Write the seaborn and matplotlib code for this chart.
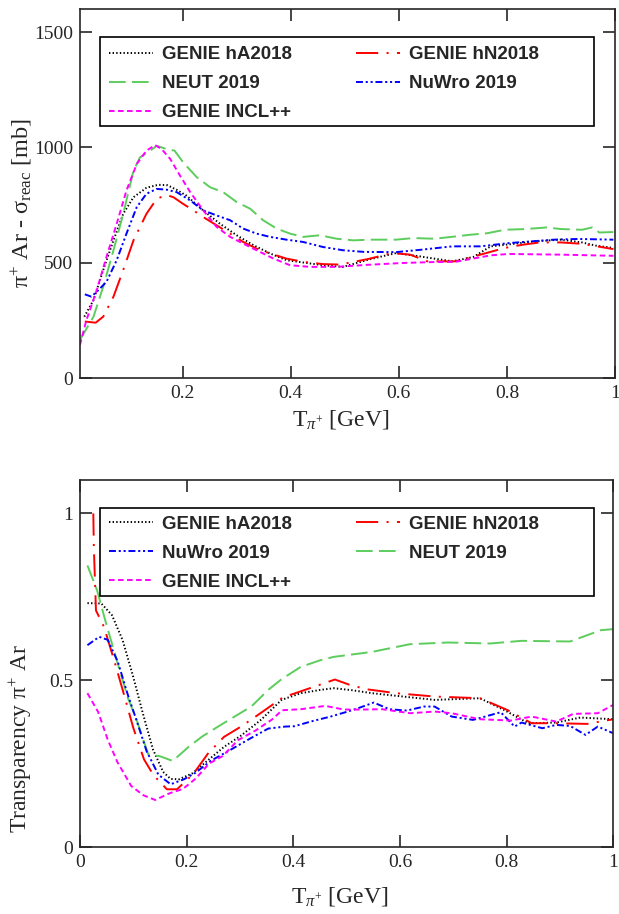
import matplotlib
matplotlib.use('Agg')
import matplotlib.pyplot as plt
from matplotlib.patches import Rectangle
from matplotlib.ticker import FuncFormatter
from matplotlib.font_manager import FontProperties
import pandas as pd
import seaborn as sns

# ---------------- top panel: pi+ Ar reaction cross section [mb] ----------------
top_ha_x = [0.018, 0.035, 0.053, 0.072, 0.090, 0.109, 0.133, 0.155, 0.172, 0.189, 0.207, 0.238, 0.269, 0.300,
            0.331, 0.362, 0.392, 0.423, 0.460, 0.497, 0.543, 0.595, 0.640, 0.699, 0.738, 0.770, 0.809, 0.848,
            0.900, 0.939, 0.965, 0.997]
top_ha_y = [266, 338, 468, 597, 712, 784, 825, 838, 836, 816, 791, 727, 669, 619,
            576, 540, 511, 501, 489, 482, 513, 542, 527, 506, 525, 571, 581, 592,
            600, 588, 574, 564]

top_hn_x = [0.019, 0.039, 0.053, 0.072, 0.090, 0.109, 0.133, 0.152, 0.170, 0.183, 0.201, 0.220, 0.238, 0.263,
            0.288, 0.312, 0.337, 0.362, 0.392, 0.423, 0.460, 0.491, 0.543, 0.588, 0.621, 0.653, 0.705, 0.751,
            0.796, 0.829, 0.861, 0.900, 0.939, 0.997]
top_hn_y = [245, 240, 266, 353, 468, 597, 712, 777, 794, 784, 755, 727, 698, 662,
            626, 590, 561, 540, 518, 504, 494, 492, 516, 542, 535, 506, 506, 535,
            564, 578, 588, 588, 582, 559]

top_neut_x = [0.010, 0.035, 0.053, 0.072, 0.090, 0.109, 0.121, 0.140, 0.152, 0.170, 0.185, 0.201, 0.226, 0.251,
              0.275, 0.300, 0.325, 0.349, 0.374, 0.399, 0.423, 0.454, 0.485, 0.516, 0.547, 0.595, 0.627, 0.666,
              0.705, 0.731, 0.764, 0.796, 0.835, 0.874, 0.900, 0.939, 0.958, 0.971, 0.997]
top_neut_y = [165, 266, 396, 554, 712, 899, 957, 986, 1007, 993, 986, 935, 871, 827,
              806, 763, 734, 684, 648, 626, 612, 619, 604, 597, 600, 600, 607, 604,
              614, 621, 628, 643, 646, 653, 646, 643, 653, 631, 633]

top_nuwro_x = [0.019, 0.031, 0.041, 0.059, 0.078, 0.096, 0.115, 0.133, 0.152, 0.170, 0.189, 0.214, 0.238, 0.263,
               0.288, 0.312, 0.337, 0.362, 0.392, 0.423, 0.460, 0.497, 0.535, 0.595, 0.640, 0.699, 0.751, 0.803,
               0.842, 0.887, 0.932, 0.997]
top_nuwro_y = [363, 353, 374, 417, 511, 626, 741, 799, 820, 817, 806, 770, 727, 705,
               684, 648, 626, 612, 600, 590, 568, 554, 547, 546, 556, 571, 571, 585,
               592, 600, 603, 600]

top_incl_x = [0.010, 0.022, 0.041, 0.059, 0.078, 0.096, 0.115, 0.133, 0.149, 0.161, 0.177, 0.195, 0.214, 0.238,
              0.263, 0.288, 0.312, 0.343, 0.368, 0.399, 0.436, 0.485, 0.543, 0.608, 0.666, 0.705, 0.770, 0.803,
              0.900, 0.997]
top_incl_y = [144, 252, 381, 525, 669, 813, 928, 986, 1010, 993, 950, 878, 806, 727,
              655, 612, 583, 547, 518, 489, 482, 482, 491, 499, 503, 504, 532, 538,
              535, 530]

# ---------------- bottom panel: transparency ----------------
bot_ha_x = [0.014, 0.040, 0.060, 0.080, 0.099, 0.118, 0.137, 0.156, 0.170, 0.186, 0.211, 0.240, 0.270, 0.303,
            0.340, 0.378, 0.414, 0.451, 0.476, 0.510, 0.548, 0.606, 0.665, 0.750, 0.795, 0.841, 0.893, 0.938, 1.000]
bot_ha_y = [0.731, 0.730, 0.695, 0.620, 0.515, 0.400, 0.292, 0.225, 0.204, 0.203, 0.221, 0.260, 0.300, 0.335,
            0.382, 0.441, 0.461, 0.471, 0.476, 0.470, 0.461, 0.451, 0.441, 0.446, 0.411, 0.371, 0.373, 0.388, 0.383]

bot_hn_x = [0.025, 0.026, 0.030, 0.045, 0.064, 0.082, 0.100, 0.120, 0.138, 0.153, 0.163, 0.182, 0.213, 0.240,
            0.270, 0.303, 0.342, 0.380, 0.420, 0.451, 0.478, 0.506, 0.537, 0.593, 0.665, 0.750, 0.801, 0.847,
            0.893, 0.951, 1.000]
bot_hn_y = [1.000, 0.898, 0.709, 0.660, 0.560, 0.460, 0.357, 0.263, 0.215, 0.190, 0.173, 0.173, 0.220, 0.280,
            0.330, 0.362, 0.405, 0.448, 0.470, 0.487, 0.502, 0.486, 0.473, 0.461, 0.451, 0.446, 0.411, 0.371,
            0.371, 0.369, 0.383]

bot_neut_x = [0.014, 0.032, 0.049, 0.068, 0.090, 0.106, 0.128, 0.150, 0.174, 0.205, 0.230, 0.260, 0.291, 0.322,
              0.353, 0.378, 0.414, 0.451, 0.476, 0.510, 0.548, 0.619, 0.691, 0.769, 0.828, 0.919, 0.977, 1.000]
bot_neut_y = [0.844, 0.770, 0.670, 0.565, 0.446, 0.382, 0.278, 0.272, 0.258, 0.302, 0.332, 0.362, 0.392, 0.422,
              0.471, 0.503, 0.540, 0.560, 0.570, 0.577, 0.585, 0.608, 0.613, 0.610, 0.618, 0.616, 0.650, 0.653]

bot_nuwro_x = [0.014, 0.036, 0.052, 0.071, 0.090, 0.106, 0.125, 0.147, 0.170, 0.195, 0.217, 0.245, 0.283, 0.320,
               0.353, 0.385, 0.402, 0.435, 0.470, 0.500, 0.525, 0.551, 0.580, 0.613, 0.645, 0.665, 0.697, 0.737,
               0.789, 0.815, 0.828, 0.867, 0.893, 0.919, 0.948, 0.971, 1.000]
bot_nuwro_y = [0.605, 0.630, 0.621, 0.555, 0.455, 0.380, 0.287, 0.217, 0.188, 0.203, 0.223, 0.258, 0.292, 0.326,
               0.355, 0.361, 0.362, 0.377, 0.391, 0.405, 0.418, 0.433, 0.413, 0.409, 0.421, 0.421, 0.391, 0.381,
               0.404, 0.361, 0.373, 0.356, 0.366, 0.363, 0.336, 0.361, 0.341]

bot_incl_x = [0.014, 0.034, 0.052, 0.070, 0.096, 0.119, 0.141, 0.168, 0.193, 0.217, 0.242, 0.268, 0.296, 0.330,
              0.360, 0.379, 0.414, 0.460, 0.495, 0.525, 0.567, 0.619, 0.665, 0.697, 0.750, 0.808, 0.847, 0.893,
              0.925, 0.971, 1.000]
bot_incl_y = [0.461, 0.405, 0.322, 0.255, 0.183, 0.155, 0.141, 0.161, 0.174, 0.205, 0.250, 0.273, 0.320, 0.350,
              0.382, 0.410, 0.413, 0.423, 0.412, 0.412, 0.413, 0.401, 0.406, 0.401, 0.383, 0.379, 0.391, 0.376,
              0.399, 0.401, 0.426]

top_series = {
    'GENIE hA2018': (top_ha_x, top_ha_y),
    'GENIE hN2018': (top_hn_x, top_hn_y),
    'NEUT 2019': (top_neut_x, top_neut_y),
    'NuWro 2019': (top_nuwro_x, top_nuwro_y),
    'GENIE INCL++': (top_incl_x, top_incl_y),
}
bot_series = {
    'GENIE hA2018': (bot_ha_x, bot_ha_y),
    'GENIE hN2018': (bot_hn_x, bot_hn_y),
    'NEUT 2019': (bot_neut_x, bot_neut_y),
    'NuWro 2019': (bot_nuwro_x, bot_nuwro_y),
    'GENIE INCL++': (bot_incl_x, bot_incl_y),
}
# legend order (matplotlib fills columns first)
top_order = ['GENIE hA2018', 'NEUT 2019', 'GENIE INCL++', 'GENIE hN2018', 'NuWro 2019']
bot_order = ['GENIE hA2018', 'NuWro 2019', 'GENIE INCL++', 'GENIE hN2018', 'NEUT 2019']

colors = {
    'GENIE hA2018': 'black',
    'GENIE hN2018': '#ff0000',
    'NEUT 2019': '#5ccd5c',
    'NuWro 2019': '#0000ff',
    'GENIE INCL++': '#ff00ff',
}
styles = {
    'GENIE hA2018': (0, (1, 1.6)),
    'GENIE hN2018': (0, (16, 6, 1.5, 6)),
    'NEUT 2019': (0, (12, 4.5)),
    'NuWro 2019': (0, (5, 2, 1.5, 2, 1.5, 2)),
    'GENIE INCL++': (0, (4, 2.5)),
}

sns.set_theme(style='ticks')
plt.rcParams['font.family'] = ['Liberation Serif', 'DejaVu Serif']
plt.rcParams['mathtext.fontset'] = 'custom'
plt.rcParams['mathtext.rm'] = 'Liberation Serif'
plt.rcParams['mathtext.it'] = 'Liberation Serif:italic'
plt.rcParams['lines.scale_dashes'] = False

legend_font = FontProperties(family='Liberation Sans', weight='bold', size=13.5)


def draw_panel(ax, series, order, legend_anchor, box):
    lines = {}
    for name, (xs, ys) in series.items():
        df = pd.DataFrame({'T': xs, 'val': ys})
        sns.lineplot(data=df, x='T', y='val', ax=ax, color=colors[name], linestyle=styles[name],
                     linewidth=1.4, estimator=None, sort=False, label=name, legend=False)
        lines[name] = ax.lines[-1]

    ax.add_patch(Rectangle(box[:2], box[2], box[3], transform=ax.transAxes, facecolor='white',
                           edgecolor='black', linewidth=1.2, zorder=4))
    leg = ax.legend(handles=[lines[n] for n in order], labels=order, ncol=2, loc='upper left',
                    bbox_to_anchor=legend_anchor, frameon=False, prop=legend_font,
                    handlelength=2.35, handletextpad=0.5, columnspacing=3.4, labelspacing=0.64,
                    borderpad=0, borderaxespad=0)
    leg.set_zorder(5)

    for sp in ax.spines.values():
        sp.set_linewidth(1.2)
        sp.set_visible(True)
    ax.tick_params(direction='in', top=True, right=True, length=8.5, width=1.2,
                   labelsize=14, pad=5)
    fmt = FuncFormatter(lambda v, p: '%g' % v)
    ax.xaxis.set_major_formatter(fmt)
    ax.yaxis.set_major_formatter(fmt)


fig = plt.figure(figsize=(6.19, 9.14), dpi=100)
ax1 = fig.add_axes([0.1292, 0.5864, 0.8643, 0.4037])
ax2 = fig.add_axes([0.1292, 0.0733, 0.8615, 0.4015])

draw_panel(ax1, top_series, top_order, (0.054, 0.900), (0.037, 0.684, 0.9234, 0.239))
ax1.set_xlim(0.01, 1.0)
ax1.set_ylim(0, 1600)
ax1.set_xticks([0.2, 0.4, 0.6, 0.8, 1.0])
ax1.set_yticks([0, 500, 1000, 1500])
ax1.set_xlabel(r'T$_{\pi^{+}}$ [GeV]', fontsize=17)
ax1.set_ylabel(r'π$^{+}$ Ar - σ$_{\rm reac}$ [mb]', fontsize=17.5)
ax1.xaxis.set_label_coords(0.488, -0.080)
ax1.yaxis.set_label_coords(-0.086, 0.474)

draw_panel(ax2, bot_series, bot_order, (0.054, 0.903), (0.037, 0.685, 0.9265, 0.238))
ax2.set_xlim(0, 1.0)
ax2.set_ylim(0, 1.1)
ax2.set_xticks([0, 0.2, 0.4, 0.6, 0.8, 1.0])
ax2.set_yticks([0, 0.5, 1.0])
ax2.set_xlabel(r'T$_{\pi^{+}}$ [GeV]', fontsize=17)
ax2.set_ylabel(r'Transparency π$^{+}$ Ar', fontsize=17)
ax2.xaxis.set_label_coords(0.487, -0.1035)
ax2.yaxis.set_label_coords(-0.086, 0.297)

fig.savefig('out.png', dpi=100)
